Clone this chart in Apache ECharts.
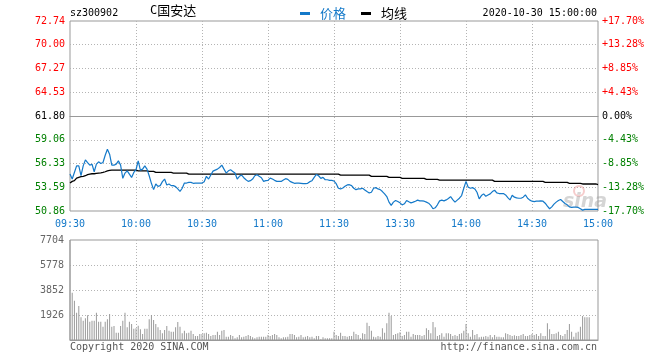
<!DOCTYPE html>
<html><head><meta charset="utf-8">
<script src="https://cdn.jsdelivr.net/npm/echarts@6/dist/echarts.min.js"></script>
<style>html,body{margin:0;padding:0;background:#fff}#c{width:660px;height:360px}</style>
</head><body><div id="c"></div>
<script>
const timeTicks = ['09:30','10:00','10:30','11:00','11:30','13:30','14:00','14:30','15:00'];
const priceTicks = [50.86, 53.59, 56.33, 59.06, 61.80, 64.53, 67.27, 70.00, 72.74];
const pctTicks = ['-17.70%','-13.28%','-8.85%','-4.43%','0.00%','+4.43%','+8.85%','+13.28%','+17.70%'];
const volTicks = [0, 1926, 3852, 5778, 7704];
const prevClose = 61.80;

const price = [
55.11,54.54,55.30,56.06,56.06,54.92,56.06,56.75,56.44,56.14,
56.25,55.38,56.25,56.52,56.33,56.44,57.28,57.97,57.40,56.14,
56.14,56.25,56.63,56.14,54.62,55.23,55.49,55.11,54.73,55.30,
55.61,56.63,55.57,55.68,56.06,55.68,54.92,54.05,53.32,53.97,
53.70,53.78,54.24,54.54,53.86,53.97,53.78,53.78,53.67,53.40,
53.13,53.48,54.08,54.08,54.16,54.16,54.05,54.08,54.08,54.08,
54.08,54.24,54.85,54.54,55.00,55.45,55.57,55.68,55.87,56.14,
55.68,55.23,55.49,55.61,55.42,55.23,54.54,54.85,55.00,54.69,
54.46,54.27,54.35,54.54,54.92,55.04,54.85,54.69,54.27,54.35,
54.39,54.65,54.54,54.39,54.27,54.27,54.27,54.43,54.58,54.50,
54.27,54.16,54.05,54.08,54.08,54.05,54.01,54.01,54.05,54.24,
54.35,54.73,55.07,54.92,54.62,54.73,54.46,54.46,54.39,54.39,
54.31,54.01,53.48,53.40,53.51,53.70,53.86,53.89,53.78,53.48,
53.32,53.40,53.40,53.48,53.29,53.10,52.94,53.02,53.48,53.55,
53.40,53.32,53.10,52.83,52.52,51.88,51.50,51.88,52.07,51.95,
51.80,51.57,51.69,52.07,51.92,51.80,51.88,51.99,52.11,52.03,
52.03,51.99,51.88,51.76,51.50,51.12,51.23,51.57,52.03,52.11,
52.03,52.14,52.30,52.52,52.18,51.88,52.11,52.33,52.64,53.48,
54.27,53.59,53.48,53.55,53.40,53.02,52.26,52.64,52.83,52.56,
52.71,52.83,53.10,53.25,52.94,52.87,52.87,52.87,52.71,52.41,
52.14,52.68,52.45,52.37,52.33,52.33,52.45,52.71,52.33,52.11,
51.99,51.95,51.99,51.99,52.03,51.99,51.76,51.42,51.12,51.34,
51.65,51.88,52.07,52.18,51.95,51.73,51.57,51.34,51.27,51.31,
51.31,51.27,51.12,50.96,51.04,51.04,51.04,51.04,51.04,51.04,
51.04
];

const avgPrice = [
54.08,54.27,54.35,54.65,54.73,54.81,54.85,54.92,55.04,55.11,
55.15,55.15,55.19,55.23,55.26,55.30,55.38,55.49,55.53,55.57,
55.57,55.57,55.57,55.57,55.57,55.57,55.57,55.57,55.57,55.57,
55.57,55.49,55.49,55.49,55.49,55.49,55.42,55.42,55.42,55.30,
55.30,55.30,55.30,55.30,55.30,55.30,55.30,55.23,55.23,55.23,
55.23,55.23,55.23,55.23,55.11,55.11,55.11,55.11,55.11,55.11,
55.11,55.11,55.11,55.11,55.11,55.11,55.11,55.11,55.11,55.11,
55.11,55.11,55.11,55.11,55.11,55.11,55.11,55.11,55.11,55.11,
55.11,55.11,55.11,55.11,55.11,55.11,55.11,55.11,55.11,55.11,
55.11,55.11,55.11,55.11,55.11,55.11,55.11,55.11,55.11,55.11,
55.11,55.11,55.11,55.11,55.11,55.11,55.11,55.11,55.11,55.11,
55.11,55.11,55.11,55.11,55.11,55.11,55.11,55.11,55.11,55.11,
55.11,55.11,55.11,54.99,54.99,54.99,54.99,54.99,54.99,54.99,
54.99,54.99,54.99,54.99,54.99,54.99,54.99,54.85,54.85,54.85,
54.85,54.85,54.85,54.85,54.85,54.73,54.73,54.73,54.73,54.73,
54.73,54.62,54.62,54.62,54.62,54.62,54.62,54.62,54.62,54.62,
54.62,54.62,54.50,54.50,54.50,54.50,54.50,54.50,54.41,54.41,
54.41,54.41,54.41,54.41,54.41,54.41,54.41,54.41,54.41,54.41,
54.41,54.41,54.41,54.41,54.41,54.41,54.41,54.41,54.41,54.41,
54.41,54.41,54.41,54.27,54.27,54.27,54.27,54.27,54.27,54.27,
54.27,54.27,54.27,54.27,54.27,54.27,54.27,54.27,54.27,54.27,
54.27,54.27,54.27,54.27,54.27,54.27,54.16,54.16,54.16,54.16,
54.16,54.16,54.16,54.16,54.16,54.16,54.16,54.05,54.05,54.05,
54.05,54.05,54.05,53.97,53.97,53.97,53.97,53.97,53.97,53.97,
53.90
];

const volume = [
7704,3645,3029,2105,2618,1746,1489,1669,1900,1412,
1489,1489,2105,1412,1412,1027,1412,1592,2002,1027,
1078,565,565,1078,1489,2105,975,1412,1232,873,
898,1104,821,462,873,873,1592,1925,1540,1232,
975,770,513,770,1078,719,642,642,975,1386,
1027,513,719,513,565,719,462,308,308,462,
462,513,565,462,308,385,385,642,385,719,
770,257,257,385,308,128,205,385,205,257,
308,385,308,205,128,205,257,257,257,257,
385,308,385,462,385,205,128,205,205,257,
462,462,385,205,257,385,205,257,308,205,
257,128,308,308,51,205,128,128,128,128,
642,385,308,565,308,308,257,308,308,642,
462,385,128,513,462,1335,1078,719,257,205,
308,257,898,565,1284,2105,1848,385,462,513,
600,308,385,642,642,257,462,385,385,385,
308,385,898,770,513,1386,975,308,385,513,
257,513,513,462,308,385,308,462,513,719,
1232,513,257,770,385,462,205,257,257,308,
257,385,205,385,257,257,205,205,513,462,
385,308,359,308,308,385,462,308,308,385,
462,385,462,308,513,308,308,1284,821,462,
462,513,642,385,308,462,770,1232,642,257,
565,642,1027,1848,1746,1746,1746,0,0,0,
0
];

// minute categories 09:30-11:30, 13:01-15:00
const times = [];
for (let m = 0; m < price.length; m++) {
  const t = m <= 120 ? 570 + m : 780 + (m - 120);
  const h = Math.floor(t / 60), mm = t % 60;
  times.push((h < 10 ? '0' : '') + h + ':' + (mm < 10 ? '0' : '') + mm);
}

const MONO = 'DejaVu Sans Mono';
const CJK = 'Noto Sans CJK SC';
const RED = '#ff0000', GREEN = '#008000', BLUE = '#1479c9';
const DOT = '#b4b4b4';
const GRID_DOT = {color: DOT, type: [1, 2], width: 1};
const every30 = (i) => i % 30 === 0;
const inner30 = (i) => i % 30 === 0 && i > 0 && i < times.length - 1;

const chart = echarts.init(document.getElementById('c'), null, {renderer: 'canvas'});
chart.setOption({
  animation: false,
  backgroundColor: '#fff',
  legend: {
    left: 295, top: 2, icon: 'rect', itemWidth: 10, itemHeight: 3, itemGap: 15,
    textStyle: {fontFamily: CJK, fontSize: 13, padding: [0, 0, 0, 5]},
    data: [
      {name: '价格', textStyle: {color: BLUE}},
      {name: '均线', textStyle: {color: '#000'}}
    ]
  },
  grid: [
    {left: 70, right: 62, top: 21, height: 190, show: true, borderColor: '#999', borderWidth: 1},
    {left: 70, right: 62, top: 240, height: 100, show: true, borderColor: '#999', borderWidth: 1}
  ],
  xAxis: [
    {
      gridIndex: 0, type: 'category', data: times, boundaryGap: false,
      axisLine: {lineStyle: {color: '#999'}}, axisTick: {show: false},
      axisLabel: {
        interval: every30, color: BLUE, fontFamily: MONO, fontSize: 10, margin: 8,
        formatter: (v, i) => timeTicks[Math.round(i / 30)]
      },
      splitLine: {show: true, interval: inner30, lineStyle: GRID_DOT}
    },
    {
      gridIndex: 1, type: 'category', data: times, boundaryGap: false,
      axisLine: {lineStyle: {color: '#999'}}, axisTick: {show: false},
      axisLabel: {show: false},
      splitLine: {show: true, interval: inner30, lineStyle: GRID_DOT}
    }
  ],
  yAxis: [
    {
      gridIndex: 0, type: 'value', position: 'left', min: priceTicks[0], max: priceTicks[priceTicks.length - 1],
      axisLine: {show: false}, axisTick: {show: false}, splitLine: {show: false},
      axisLabel: {
        customValues: priceTicks, fontFamily: MONO, fontSize: 10, margin: 5,
        formatter: (v) => v.toFixed(2),
        color: (v) => (v > prevClose + 0.001 ? RED : (v < prevClose - 0.001 ? GREEN : '#000'))
      }
    },
    {
      gridIndex: 0, type: 'value', position: 'right', min: -17.7, max: 17.7, interval: 4.425,
      axisLine: {show: false}, axisTick: {show: false},
      splitLine: {
        show: true, showMinLine: false, showMaxLine: false,
        lineStyle: {type: [1, 2], width: 1, color: [DOT, DOT, DOT, '#000', DOT, DOT, DOT]}
      },
      axisLabel: {
        fontFamily: MONO, fontSize: 10, margin: 4,
        formatter: (v) => pctTicks[Math.round((v + 17.7) / 4.425)],
        color: (v) => (v > 0.001 ? RED : (v < -0.001 ? GREEN : '#000'))
      }
    },
    {
      gridIndex: 1, type: 'value', min: 0, max: volTicks[volTicks.length - 1], interval: volTicks[1],
      axisLine: {show: false}, axisTick: {show: false},
      splitLine: {show: true, showMinLine: false, showMaxLine: false, lineStyle: GRID_DOT},
      axisLabel: {showMinLabel: false, color: '#666', fontFamily: MONO, fontSize: 10, margin: 6,
        formatter: (v) => String(Math.round(v))}
    }
  ],
  series: [
    {
      name: '价格', type: 'line', xAxisIndex: 0, yAxisIndex: 0, data: price,
      showSymbol: false, symbol: 'none', lineStyle: {color: BLUE, width: 1.2}, itemStyle: {color: BLUE}, z: 3
    },
    {
      name: '均线', type: 'line', xAxisIndex: 0, yAxisIndex: 0, data: avgPrice,
      showSymbol: false, symbol: 'none', lineStyle: {color: '#000', width: 1.3}, itemStyle: {color: '#000'}, z: 2
    },
    {
      name: '成交量', type: 'bar', xAxisIndex: 1, yAxisIndex: 2, data: volume,
      barWidth: 1, itemStyle: {color: '#999'}, silent: true
    }
  ],
  graphic: [
    {type: 'text', left: 70, top: 8, style: {text: 'sz300902', font: '10px "DejaVu Sans Mono"', fill: '#000'}},
    {type: 'text', left: 150, top: 4, style: {
      text: '{c|C}{n|国安达}',
      rich: {c: {fontFamily: MONO, fontSize: 12, color: '#777'}, n: {fontFamily: CJK, fontSize: 13, color: '#000'}}
    }},
    {type: 'text', right: 63, top: 8, style: {text: '2020-10-30 15:00:00', font: '10px "DejaVu Sans Mono"', fill: '#000'}},
    {type: 'text', left: 70, top: 342, style: {text: 'Copyright 2020 SINA.COM', font: '10px "DejaVu Sans Mono"', fill: '#555'}},
    {type: 'text', right: 63, top: 342, style: {text: 'http://finance.sina.com.cn', font: '10px "DejaVu Sans Mono"', fill: '#555'}},
    {type: 'circle', shape: {cx: 579, cy: 191, r: 5}, style: {fill: 'none', stroke: 'rgba(230,110,110,0.35)', lineWidth: 2}, z: 1},
    {type: 'text', left: 563, top: 193, style: {text: 'sina', font: 'italic bold 19px "DejaVu Sans"', fill: 'rgba(150,150,150,0.4)'}, z: 1}
  ]
});
</script>
</body></html>
